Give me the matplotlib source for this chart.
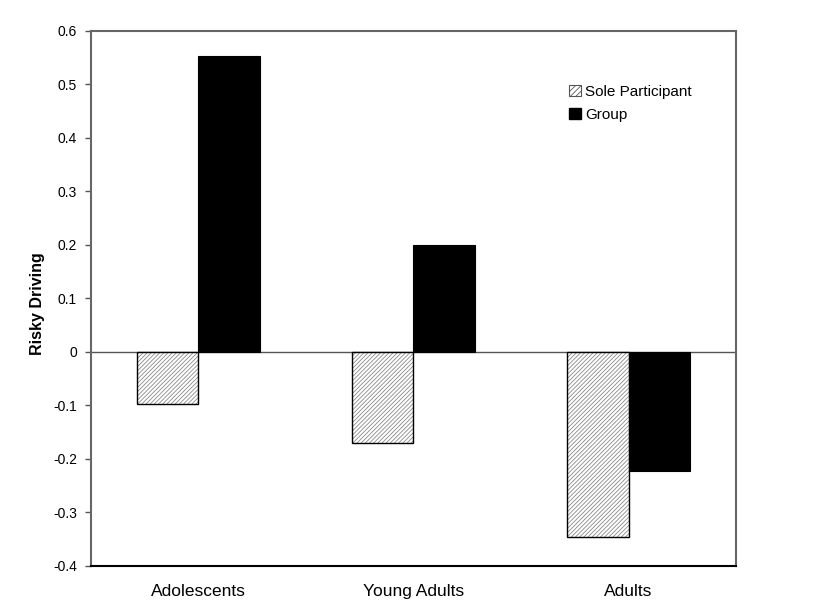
import numpy as np
import matplotlib.pyplot as plt
from matplotlib.patches import Patch

plt.rcParams['font.family'] = ['Liberation Sans', 'DejaVu Sans']
plt.rcParams['hatch.linewidth'] = 0.6

groups = ['Adolescents', 'Young Adults', 'Adults']
sole = [-0.098, -0.170, -0.345]
group = [0.553, 0.200, -0.223]
yticks = [-0.4, -0.3, -0.2, -0.1, 0, 0.1, 0.2, 0.3, 0.4, 0.5, 0.6]
ytick_labels = ['-0.4', '-0.3', '-0.2', '-0.1', '0', '0.1', '0.2', '0.3', '0.4', '0.5', '0.6']

fig = plt.figure(figsize=(8.13, 6.15), dpi=100)
ax = fig.add_axes([0.1119, 0.0797, 0.7934, 0.8699])

x = np.arange(len(groups))
w = 0.288

# hatched bars: gray hatch, then black outline on top
ax.bar(x - w / 2, sole, w, color='white', edgecolor='#8a8a8a', hatch='////////', linewidth=0, zorder=2)
ax.bar(x - w / 2, sole, w, fill=False, edgecolor='black', linewidth=1.0, zorder=3)
ax.bar(x + w / 2, group, w, color='black', edgecolor='black', linewidth=0.8, zorder=3)

ax.axhline(0, color='#555555', linewidth=1.0, zorder=1)

ax.set_xlim(-0.5, 2.5)
ax.set_ylim(-0.4, 0.6)
ax.set_xticks(x)
ax.set_xticklabels(groups, fontsize=12.5)
ax.tick_params(axis='x', length=0, pad=13)
ax.set_yticks(yticks)
ax.set_yticklabels(ytick_labels, fontsize=10)
ax.tick_params(axis='y', direction='out', length=4, width=1, color='#555555', pad=6)
ax.set_ylabel('Risky Driving', fontsize=11.5, fontweight='bold')
ax.yaxis.set_label_coords(-0.072, 0.49)

for side in ['left', 'right', 'top']:
    ax.spines[side].set_color('#666666')
    ax.spines[side].set_linewidth(1.5)
ax.spines['bottom'].set_color('black')
ax.spines['bottom'].set_linewidth(1.5)

handles = [
    Patch(facecolor='white', edgecolor='#555555', hatch='//////', linewidth=0.8, label='Sole Participant'),
    Patch(facecolor='black', edgecolor='black', label='Group'),
]
ax.legend(handles=handles, loc='upper left', bbox_to_anchor=(0.72, 0.925), frameon=False,
          fontsize=11, handlelength=0.75, handleheight=0.75, handletextpad=0.3, labelspacing=0.6)

fig.savefig('out.png', dpi=100)
